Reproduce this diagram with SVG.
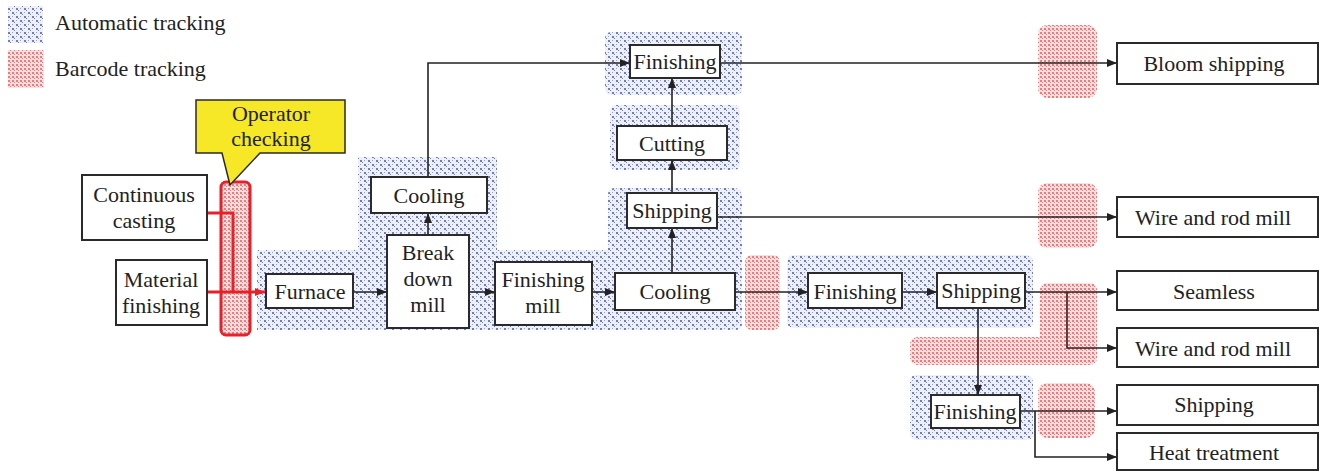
<svg xmlns="http://www.w3.org/2000/svg" width="1324" height="472" viewBox="0 0 1324 472" font-family="Liberation Serif, DejaVu Serif, serif">
<defs>
<pattern id="pb" width="8" height="8" patternUnits="userSpaceOnUse">
<rect width="8" height="8" fill="#eef0f8"/>
<rect x="0" y="0" width="2" height="2" fill="#3b4aa6" opacity="0.7"/>
<rect x="4" y="4" width="2" height="2" fill="#3b4aa6" opacity="0.7"/>
<rect x="2" y="2" width="1" height="1" fill="#6f7cc0"/>
<rect x="6" y="6" width="1" height="1" fill="#6f7cc0"/>
<rect x="4" y="0" width="1" height="1" fill="#9aa3d6"/>
<rect x="0" y="4" width="1" height="1" fill="#9aa3d6"/>
</pattern>
<pattern id="pr" width="4" height="4" patternUnits="userSpaceOnUse">
<rect width="4" height="4" fill="#fbe0e0"/>
<rect x="0" y="0" width="2" height="2" fill="#e8333a" opacity="0.6"/>
<rect x="2" y="2" width="1" height="1" fill="#e8333a" opacity="0.6"/>
</pattern>
<marker id="ar" markerUnits="userSpaceOnUse" markerWidth="10" markerHeight="8" refX="10" refY="4" orient="auto">
<path d="M0,0 L10,4 L0,8 Z" fill="#222"/>
</marker>
<marker id="arr" markerUnits="userSpaceOnUse" markerWidth="10" markerHeight="8" refX="10" refY="4" orient="auto">
<path d="M0,0 L10,4 L0,8 Z" fill="#e8202a"/>
</marker>
</defs>
<style>
.bz{fill:url(#pb);}
.rz{fill:url(#pr);}
.box{fill:#fff;stroke:#2a2a2a;stroke-width:2;}
text{font-family:"Liberation Serif",serif;font-size:22px;fill:#222;}
.t{text-anchor:middle;}
.c{fill:none;stroke:#222;stroke-width:1.6;marker-end:url(#ar);}
</style>
<rect width="1324" height="472" fill="#fff"/>

<g id="legend">
<rect class="bz" x="8" y="6" width="35" height="37"/>
<text x="55" y="30">Automatic tracking</text>
<rect class="rz" x="8" y="50" width="36" height="38"/>
<text x="55" y="76">Barcode tracking</text>
</g>

<g id="zones">
<path class="bz" d="M257,250 H358 V157 H497 V250 H612 V330 H257 Z"/>
<rect class="bz" x="608" y="188" width="134" height="142" rx="6"/>
<rect class="bz" x="605" y="32" width="137" height="63" rx="6"/>
<rect class="bz" x="610" y="105" width="130" height="65" rx="6"/>
<rect class="bz" x="787" y="255" width="246" height="73" rx="6"/>
<rect class="bz" x="910" y="375" width="123" height="65" rx="6"/>
<rect class="rz" x="1038" y="25" width="59" height="73" rx="9"/>
<rect class="rz" x="1038" y="183" width="59" height="65" rx="9"/>
<rect class="rz" x="745" y="255" width="35" height="75" rx="7"/>
<path class="rz" d="M1048,283 H1089 Q1097,283 1097,291 V357 Q1097,365 1089,365 H918 Q910,365 910,357 V345 Q910,337 918,337 H1040 V291 Q1040,283 1048,283 Z"/>
<rect class="rz" x="1038" y="383" width="57" height="55" rx="9"/>
</g>

<g id="red-bar">
<rect class="rz" x="221" y="182" width="29" height="153" rx="5" stroke="#e8202a" stroke-width="3"/>
</g>

<g id="connectors">
<polyline points="207,213 233,213 233,292" fill="none" stroke="#e8202a" stroke-width="3"/>
<path d="M207,292 H265" fill="none" stroke="#e8202a" stroke-width="3" marker-end="url(#arr)"/>
<path class="c" d="M353,292 H387"/>
<path class="c" d="M428,235 V213"/>
<path class="c" d="M428,177 V63 H630"/>
<path class="c" d="M469,292 H495"/>
<path class="c" d="M592,292 H615"/>
<path class="c" d="M672,273 V228"/>
<path class="c" d="M672,193 V160"/>
<path class="c" d="M672,126 V78"/>
<path class="c" d="M720,63 H1117"/>
<path class="c" d="M717,217 H1117"/>
<path class="c" d="M735,292 H808"/>
<path class="c" d="M902,292 H937"/>
<path class="c" d="M1025,292 H1117"/>
<path class="c" d="M1067,292 V348 H1117"/>
<path class="c" d="M978,308 V395"/>
<path class="c" d="M1020,411 H1117"/>
<path class="c" d="M1035,411 V457 H1117"/>
</g>

<g id="operator-checking">
<path d="M196,100 H345 V153 H260 L230,185 L222,153 H196 Z" fill="#f6e827" stroke="#2a2a2a" stroke-width="1.5"/>
<text class="t" x="271" y="121">Operator</text>
<text class="t" x="271" y="146">checking</text>
</g>

<g id="continuous-casting">
<rect class="box" x="82" y="175" width="125" height="65"/>
<text class="t" x="144" y="202">Continuous</text>
<text class="t" x="144" y="228">casting</text>
</g>
<g id="material-finishing">
<rect class="box" x="116" y="260" width="91" height="65"/>
<text class="t" x="161" y="287">Material</text>
<text class="t" x="161" y="313">finishing</text>
</g>
<g id="furnace">
<rect class="box" x="266" y="274" width="87" height="34"/>
<text class="t" x="310" y="299">Furnace</text>
</g>
<g id="cooling-1">
<rect class="box" x="371" y="177" width="116" height="36"/>
<text class="t" x="429" y="203">Cooling</text>
</g>
<g id="break-down-mill">
<rect class="box" x="387" y="235" width="82" height="93"/>
<text class="t" x="428" y="260">Break</text>
<text class="t" x="428" y="286">down</text>
<text class="t" x="428" y="312">mill</text>
</g>
<g id="finishing-mill">
<rect class="box" x="495" y="262" width="97" height="63"/>
<text class="t" x="543" y="287">Finishing</text>
<text class="t" x="543" y="313">mill</text>
</g>
<g id="cooling-2">
<rect class="box" x="615" y="273" width="120" height="37"/>
<text class="t" x="675" y="299">Cooling</text>
</g>
<g id="shipping-1">
<rect class="box" x="627" y="193" width="90" height="35"/>
<text class="t" x="672" y="218">Shipping</text>
</g>
<g id="cutting">
<rect class="box" x="617" y="126" width="110" height="34"/>
<text class="t" x="672" y="151">Cutting</text>
</g>
<g id="finishing-1">
<rect class="box" x="630" y="45" width="90" height="33"/>
<text class="t" x="675" y="69">Finishing</text>
</g>
<g id="bloom-shipping">
<rect class="box" x="1117" y="43" width="201" height="41"/>
<text class="t" x="1214" y="71">Bloom shipping</text>
</g>
<g id="wire-rod-mill-1">
<rect class="box" x="1117" y="197" width="201" height="40"/>
<text class="t" x="1213" y="225">Wire and rod mill</text>
</g>
<g id="finishing-2">
<rect class="box" x="808" y="273" width="94" height="35"/>
<text class="t" x="855" y="299">Finishing</text>
</g>
<g id="shipping-2">
<rect class="box" x="937" y="273" width="88" height="35"/>
<text class="t" x="981" y="298">Shipping</text>
</g>
<g id="seamless">
<rect class="box" x="1117" y="271" width="201" height="39"/>
<text class="t" x="1214" y="299">Seamless</text>
</g>
<g id="wire-rod-mill-2">
<rect class="box" x="1117" y="328" width="201" height="39"/>
<text class="t" x="1213" y="356">Wire and rod mill</text>
</g>
<g id="finishing-3">
<rect class="box" x="931" y="395" width="89" height="33"/>
<text class="t" x="975" y="419">Finishing</text>
</g>
<g id="shipping-3">
<rect class="box" x="1117" y="385" width="201" height="40"/>
<text class="t" x="1214" y="412">Shipping</text>
</g>
<g id="heat-treatment">
<rect class="box" x="1117" y="433" width="201" height="37"/>
<text class="t" x="1214" y="460">Heat treatment</text>
</g>
</svg>
